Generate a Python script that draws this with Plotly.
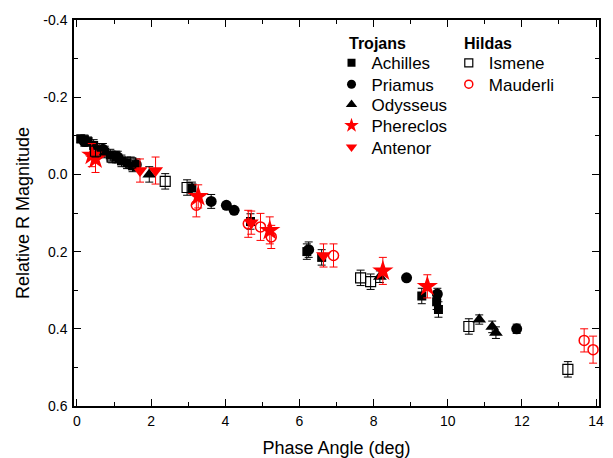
import plotly.graph_objects as go

# ---- data (phase angle deg, relative R magnitude, error) ----
achilles_x = [0.1, 0.2, 0.3, 0.45, 0.6, 0.75, 0.9, 1.05, 1.2, 1.35, 1.5, 3.1, 4.68, 6.2, 6.6, 9.3, 9.7, 9.75]
achilles_y = [-0.092, -0.09, -0.085, -0.075, -0.065, -0.058, -0.05, -0.045, -0.035, -0.03, -0.022, 0.035, 0.122, 0.2, 0.215, 0.315, 0.33, 0.35]
achilles_e = [0.01, 0.012, 0.012, 0.015, 0.015, 0.015, 0.015, 0.015, 0.015, 0.015, 0.015, 0.015, 0.02, 0.02, 0.02, 0.02, 0.02, 0.02]

priamus_x = [0.2, 0.7, 1.1, 1.6, 3.62, 4.03, 4.24, 6.25, 8.89, 9.72, 11.86]
priamus_y = [-0.085, -0.065, -0.045, -0.025, 0.07, 0.08, 0.093, 0.195, 0.268, 0.31, 0.4]
priamus_e = [0.012, 0.015, 0.015, 0.015, 0.018, 0.0, 0.0, 0.02, 0.0, 0.015, 0.012]

odysseus_x = [1.95, 8.17, 10.85, 11.2, 11.3]
odysseus_y = [0.0, 0.265, 0.376, 0.395, 0.41]
odysseus_e = [0.02, 0.015, 0.012, 0.015, 0.015]

phereclos_x = [0.4, 0.5, 3.27, 5.2, 8.25, 9.45]
phereclos_y = [-0.05, -0.04, 0.057, 0.145, 0.25, 0.29]
phereclos_e = [0.03, 0.035, 0.03, 0.035, 0.035, 0.03]

antenor_x = [1.7, 2.12, 4.7, 6.65]
antenor_y = [-0.01, -0.01, 0.125, 0.21]
antenor_e = [0.03, 0.035, 0.03, 0.03]

ismene_x = [0.5, 0.95, 1.45, 2.38, 2.97, 7.65, 7.92, 10.57, 13.24]
ismene_y = [-0.06, -0.045, -0.03, 0.018, 0.034, 0.268, 0.278, 0.394, 0.505]
ismene_e = [0.015, 0.015, 0.015, 0.02, 0.02, 0.02, 0.02, 0.02, 0.02]

mauderli_x = [3.22, 4.62, 4.95, 5.24, 6.92, 13.68, 13.92]
mauderli_y = [0.08, 0.128, 0.136, 0.162, 0.21, 0.43, 0.454]
mauderli_e = [0.03, 0.035, 0.035, 0.03, 0.03, 0.03, 0.035]

x_ticks = [0, 2, 4, 6, 8, 10, 12, 14]
y_ticks = [-0.4, -0.2, 0.0, 0.2, 0.4, 0.6]
y_ticktext = ["-0.4", "-0.2", "0.0", "0.2", "0.4", "0.6"]

FONT = "Liberation Sans, Arial, sans-serif"
RED = "#ff0000"

# layout geometry (pixels)
W, H = 613, 458
ML, MR, MT, MB = 74, 13, 18, 52
PW, PH = W - ML - MR, H - MT - MB

def px_x(p):
    return (p - ML) / PW

def px_y(p):
    return 1 - (p - MT) / PH

series = [
    # name, x, y, err, symbol, plot size, legend size, color, line width, legend col, legend row px
    ("Achilles", achilles_x, achilles_y, achilles_e, "square", 9, 8, "black", 0, 0, 61.5),
    ("Priamus", priamus_x, priamus_y, priamus_e, "circle", 11, 9, "black", 0, 0, 83),
    ("Odysseus", odysseus_x, odysseus_y, odysseus_e, "triangle-up", 12, 10, "black", 0, 0, 103.5),
    ("Phereclos", phereclos_x, phereclos_y, phereclos_e, "star", 16, 11, RED, 0, 0, 124.5),
    ("Antenor", antenor_x, antenor_y, antenor_e, "triangle-down", 13, 10, RED, 0, 0, 146),
    ("Ismene", ismene_x, ismene_y, ismene_e, "square-open", 10, 8, "black", 1.2, 1, 61.5),
    ("Mauderli", mauderli_x, mauderli_y, mauderli_e, "circle-open", 10, 8, RED, 1.5, 1, 83),
]
col_left_px = [332, 449.5]

fig = go.Figure()
for s in series:
    name, xs, ys, es, sym, size, lsize, color, lw, col, row = s
    fig.add_trace(go.Scatter(
        x=xs, y=ys, mode="markers", name=name, showlegend=False,
        marker=dict(symbol=sym, size=size, color=color, line=dict(width=lw, color=color)),
        error_y=dict(type="data", array=es, visible=True, color=color, thickness=1, width=4),
    ))

legend_layout = {}
for i, s in enumerate(series):
    name, xs, ys, es, sym, size, lsize, color, lw, col, row = s
    key = "legend" if i == 0 else f"legend{i + 1}"
    fig.add_trace(go.Scatter(
        x=[None], y=[None], mode="markers", name=name, legend=key, showlegend=True,
        marker=dict(symbol=sym, size=lsize, color=color, line=dict(width=lw, color=color)),
    ))
    legend_layout[key] = dict(
        x=px_x(col_left_px[col]), y=px_y(row), xanchor="left", yanchor="middle",
        bgcolor="rgba(0,0,0,0)", font=dict(family=FONT, size=17, color="black"),
        itemclick=False, itemdoubleclick=False,
    )

axis_common = dict(
    showline=True, linecolor="black", linewidth=1.5, mirror="allticks",
    ticks="inside", ticklen=7, tickwidth=1.2, tickcolor="black",
    showgrid=False, zeroline=False,
    tickfont=dict(family=FONT, size=14, color="black"),
)

fig.update_layout(
    width=W, height=H,
    margin=dict(l=ML, r=MR, t=MT, b=MB),
    paper_bgcolor="white", plot_bgcolor="white",
    font=dict(family=FONT, color="black"),
    xaxis=dict(range=[-0.08, 14.08], tickvals=x_ticks, ticklabelstandoff=1, automargin=False,
               minor=dict(ticks="inside", ticklen=4, dtick=1, tick0=0, tickcolor="black"),
               title=dict(text="Phase Angle (deg)", font=dict(family=FONT, size=18)),
               **axis_common),
    yaxis=dict(range=[0.6, -0.4], tickvals=y_ticks, ticktext=y_ticktext, ticklabelstandoff=2,
               automargin=True,
               minor=dict(ticks="inside", ticklen=4, dtick=0.1, tick0=0, tickcolor="black"),
               title=dict(text="Relative R Magnitude", font=dict(family=FONT, size=18), standoff=9),
               **axis_common),
    showlegend=True,
    annotations=[
        dict(text="<b>Trojans</b>", x=px_x(347.5), y=px_y(42), xref="paper", yref="paper",
             xanchor="left", yanchor="middle", showarrow=False,
             font=dict(family=FONT, size=16, color="black")),
        dict(text="<b>Hildas</b>", x=px_x(462.5), y=px_y(42), xref="paper", yref="paper",
             xanchor="left", yanchor="middle", showarrow=False,
             font=dict(family=FONT, size=16, color="black")),
    ],
    **legend_layout,
)

fig.write_html("out.html", config={"displayModeBar": False},
               post_script="document.body.style.margin='0';")
